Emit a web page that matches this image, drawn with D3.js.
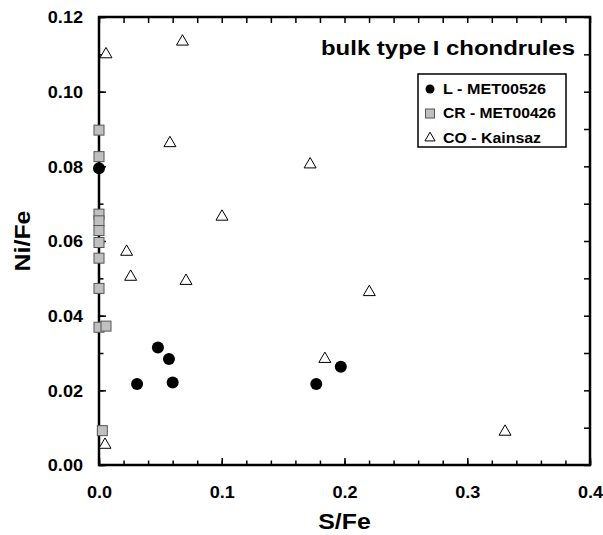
<!DOCTYPE html>
<html>
<head>
<meta charset="utf-8">
<script src="https://cdn.jsdelivr.net/npm/d3@7/dist/d3.min.js"></script>
<style>
  html, body { margin: 0; padding: 0; background: #fff; }
  svg { display: block; }
  text { font-family: "Liberation Sans", Arial, sans-serif; font-weight: bold; fill: #000; }
</style>
</head>
<body>
<svg id="chart" width="603" height="535"></svg>
<script>
// Bulk type I chondrules: Ni/Fe versus S/Fe for three meteorites
const seriesNames = ["L - MET00526", "CR - MET00426", "CO - Kainsaz"];

const lS  = [0.000, 0.031, 0.048, 0.057, 0.060, 0.177, 0.197];
const lNi = [0.0795, 0.0217, 0.0315, 0.0284, 0.0221, 0.0217, 0.0263];

const crS  = [0, 0, 0, 0, 0, 0, 0, 0, 0, 0.0057, 0.0027];
const crNi = [0.0897, 0.0826, 0.0672, 0.0654, 0.0628, 0.0596, 0.0554, 0.0473, 0.0369, 0.0372, 0.0092];

const coS  = [0.0057, 0.068, 0.0578, 0.0225, 0.0258, 0.0709, 0.0049, 0.1002, 0.172, 0.2202, 0.184, 0.3308];
const coNi = [0.110, 0.1134, 0.0862, 0.0571, 0.0504, 0.0493, 0.0054, 0.0665, 0.0805, 0.0463, 0.0284, 0.0089];

const xTickLabels = ["0.0", "0.1", "0.2", "0.3", "0.4"];
const yTickLabels = ["0.00", "0.02", "0.04", "0.06", "0.08", "0.10", "0.12"];

const svg = d3.select("#chart");
const plotL = 99, plotR = 590, plotT = 17, plotB = 465;

const x = d3.scaleLinear().domain([0, 0.4]).range([plotL, plotR]);
const y = d3.scaleLinear().domain([0, 0.12]).range([plotB, plotT]);

// horizontal stretch applied to text
const SX = 1.13;
function stretch(sel) {
  sel.each(function () {
    const w = this.getComputedTextLength();
    this.setAttribute("textLength", w * SX);
    this.setAttribute("lengthAdjust", "spacingAndGlyphs");
  });
}

const xMinor = d3.range(0, 0.4001, 0.02);
const yMinor = d3.range(0, 0.1201, 0.01);
const xMajor = xTickLabels.map(Number);
const yMajor = yTickLabels.map(Number);

function styleAxis(g) {
  g.select(".domain").remove();
  g.selectAll(".tick line").attr("stroke", "#000").attr("stroke-width", 1.5);
}

// minor ticks (inward) on all four sides
svg.append("g").attr("transform", `translate(0,${plotB})`)
  .call(d3.axisBottom(x).tickValues(xMinor).tickSize(-4.5).tickFormat(""))
  .call(styleAxis);
svg.append("g").attr("transform", `translate(${plotL},0)`)
  .call(d3.axisLeft(y).tickValues(yMinor).tickSize(-4.5).tickFormat(""))
  .call(styleAxis);
svg.append("g").attr("transform", `translate(0,${plotT})`)
  .call(d3.axisTop(x).tickValues(xMinor).tickSize(-6).tickFormat(""))
  .call(styleAxis);
svg.append("g").attr("transform", `translate(${plotR},0)`)
  .call(d3.axisRight(y).tickValues(yMinor).tickSize(-6).tickFormat(""))
  .call(styleAxis);

// major ticks with labels
const xAx = svg.append("g").attr("transform", `translate(0,${plotB})`)
  .call(d3.axisBottom(x).tickValues(xMajor).tickSize(-7).tickPadding(0)
    .tickFormat((d, i) => xTickLabels[i]))
  .call(styleAxis);
xAx.selectAll(".tick text")
  .attr("y", 33).attr("dy", 0)
  .style("font-size", "16px").style("font-family", "Liberation Sans, Arial, sans-serif")
  .style("font-weight", "bold").attr("fill", "#000")
  .call(stretch);

const yAx = svg.append("g").attr("transform", `translate(${plotL},0)`)
  .call(d3.axisLeft(y).tickValues(yMajor).tickSize(-7)
    .tickFormat((d, i) => yTickLabels[i]))
  .call(styleAxis);
yAx.selectAll(".tick text")
  .attr("x", -16).attr("dy", "0.36em")
  .style("font-size", "16px").style("font-family", "Liberation Sans, Arial, sans-serif")
  .style("font-weight", "bold").attr("fill", "#000")
  .call(stretch);

// frame
svg.append("rect")
  .attr("x", plotL).attr("y", plotT)
  .attr("width", plotR - plotL).attr("height", plotB - plotT)
  .attr("fill", "none").attr("stroke", "#000").attr("stroke-width", 2.5);

// axis titles
svg.append("text")
  .attr("x", (plotL + plotR) / 2).attr("y", 529)
  .attr("text-anchor", "middle").style("font-size", "22px")
  .text("S/Fe").call(stretch);

svg.append("text")
  .attr("transform", `translate(30,${(plotT + plotB) / 2}) rotate(-90)`)
  .attr("text-anchor", "middle").style("font-size", "22px")
  .text("Ni/Fe").call(stretch);

// chart title
svg.append("text")
  .attr("x", 575).attr("y", 55)
  .attr("text-anchor", "end").style("font-size", "20px")
  .text("bulk type I chondrules")
  .each(function () {
    this.setAttribute("textLength", 254);
    this.setAttribute("lengthAdjust", "spacingAndGlyphs");
  });

// data points
const triPath = d3.symbol().type(d3.symbolTriangle).size(62);
const triSmall = d3.symbol().type(d3.symbolTriangle).size(44);

const coData = coS.map((s, i) => ({ s, n: coNi[i] }));
const crData = crS.map((s, i) => ({ s, n: crNi[i] }));
const lData = lS.map((s, i) => ({ s, n: lNi[i] }));

svg.append("g").selectAll("path").data(coData).join("path")
  .attr("d", triPath)
  .attr("transform", d => `translate(${x(d.s)},${y(d.n)})`)
  .attr("fill", "#fff").attr("stroke", "#000").attr("stroke-width", 1);

svg.append("g").selectAll("rect").data(crData).join("rect")
  .attr("x", d => x(d.s) - 5).attr("y", d => y(d.n) - 5)
  .attr("width", 10).attr("height", 10)
  .attr("fill", "#c0c0c0").attr("stroke", "#555").attr("stroke-width", 1);

svg.append("g").selectAll("circle").data(lData).join("circle")
  .attr("cx", d => x(d.s)).attr("cy", d => y(d.n)).attr("r", 6)
  .attr("fill", "#000");

// legend
const lg = svg.append("g");
lg.append("rect")
  .attr("x", 418).attr("y", 74).attr("width", 148).attr("height", 73)
  .attr("fill", "#fff").attr("stroke", "#000").attr("stroke-width", 1.5);

const rowY = [89, 113.5, 138];
lg.append("circle").attr("cx", 430).attr("cy", rowY[0]).attr("r", 4.5).attr("fill", "#000");
lg.append("rect").attr("x", 425.5).attr("y", rowY[1] - 4.5).attr("width", 9).attr("height", 9)
  .attr("fill", "#c0c0c0").attr("stroke", "#555").attr("stroke-width", 1);
lg.append("path").attr("d", triSmall).attr("transform", `translate(430,${rowY[2]})`)
  .attr("fill", "#fff").attr("stroke", "#000").attr("stroke-width", 1);

const legendWidths = [103, 113, 98];
lg.selectAll("text.lab").data(seriesNames).join("text")
  .attr("class", "lab")
  .attr("x", 443).attr("y", (d, i) => rowY[i] + 4.5)
  .style("font-size", "14px")
  .text(d => d)
  .each(function (d, i) {
    this.setAttribute("textLength", legendWidths[i]);
    this.setAttribute("lengthAdjust", "spacingAndGlyphs");
  });
</script>
</body>
</html>
